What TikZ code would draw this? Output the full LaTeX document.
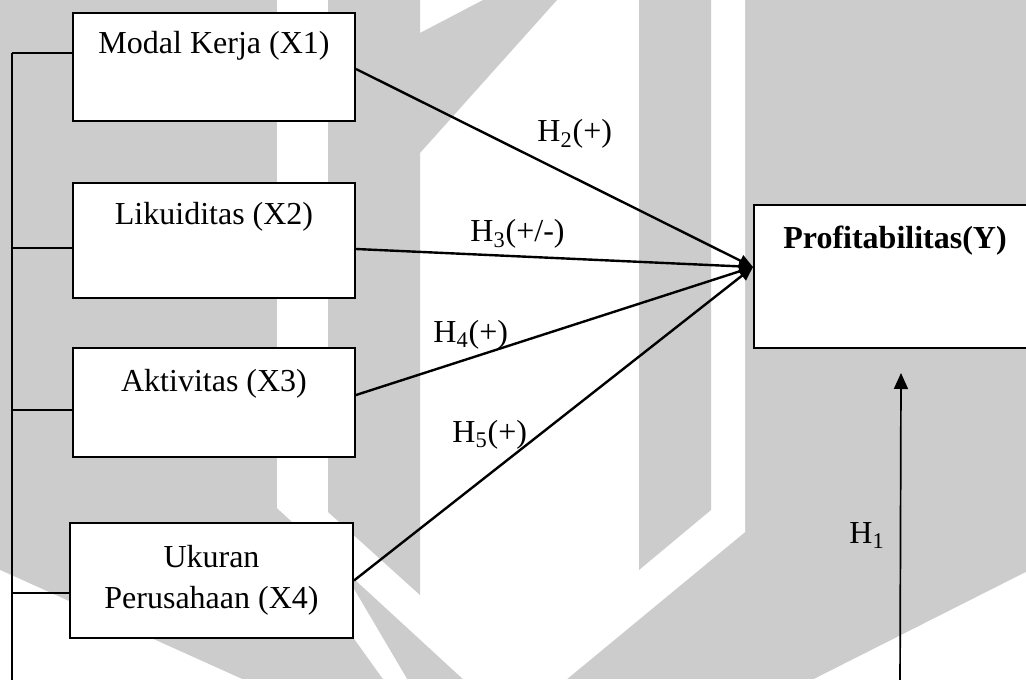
\documentclass[tikz,border=0pt]{standalone}
\usepackage{fontspec}
\setmainfont{Liberation Serif}
\usetikzlibrary{arrows.meta}
\definecolor{wm}{HTML}{CCCCCC}
\begin{document}
\begin{tikzpicture}[x=0.5pt,y=-0.5pt,
  varbox/.style={draw=black,line width=1pt,fill=white,inner sep=0pt,minimum width=141pt,anchor=north west,font=\fontsize{16}{20.5}\selectfont},
  link/.style={line width=1.2pt,-{Triangle[length=7pt,width=6pt]}},
  busline/.style={line width=0.75pt},
  hlabel/.style={anchor=base west,inner sep=0pt,font=\fontsize{16}{18}\selectfont}]
\useasboundingbox (0,0) rectangle (1026,679);
\clip (0,0) rectangle (1026,679);
% background watermark
\fill[wm] (0,0) rectangle (1026,679);
\fill[white] (277,0) -- (745,0) -- (745,532) -- (567,679) -- (463,679) -- (277,508) -- cycle;
\fill[wm] (328,0) -- (420,0) -- (420,595) -- (328,512) -- cycle;
\fill[wm] (483,0) -- (557,0) -- (420,153) -- (420,33) -- cycle;
\fill[wm] (639,0) -- (711,0) -- (711,510) -- (639,570) -- cycle;
\fill[white] (0,570) -- (242,679) -- (0,679) -- cycle;
\fill[white] (1026,572) -- (1026,679) -- (814,679) -- cycle;
\fill[white] (341,567) -- (407,679) -- (383,679) -- (330,605) -- cycle;
% boxes
\node[varbox,text height=20.5pt,text depth=33.5pt] (X1) at (72,12) {Modal Kerja (X1)};
\node[varbox,text height=20.5pt,text depth=37pt] (X2) at (72,182) {Likuiditas (X2)};
\node[varbox,text height=21.5pt,text depth=33pt] (X3) at (72,347) {Aktivitas (X3)};
\node[varbox,minimum width=141.5pt,minimum height=57.5pt,align=center] (X4) at (69,522) {Ukuran\\Perusahaan (X4)};
\node[varbox,text height=21.5pt,text depth=50pt,font=\fontsize{16}{20.5}\selectfont\bfseries] (Y) at (753,204) {Profitabilitas(Y)};
% left bus
\coordinate (b1) at (12,53);
\coordinate (b2) at (12,248);
\coordinate (b3) at (12,410);
\coordinate (b4) at (12,593);
\coordinate (bend) at (12,690);
\draw[busline] (b1) -- (bend);
\draw[busline] (b1) -- (b1 -| X1.west);
\draw[busline] (b2) -- (b2 -| X2.west);
\draw[busline] (b3) -- (b3 -| X3.west);
\draw[busline] (b4) -- (b4 -| X4.west);
% arrows
\coordinate (tip) at ([yshift=4.75pt]Y.west);
\draw[link] ([yshift=-1pt]X1.east) -- (tip);
\draw[link] ([yshift=-4.25pt]X2.east) -- (tip);
\draw[link] ([yshift=3.75pt]X3.east) -- (tip);
\draw[link] (X4.east) -- (tip);
\coordinate (h1b) at ([xshift=3pt,yshift=-12pt]Y.south);
\coordinate (h1a) at (900,690);
\draw[line width=0.85pt,-{Triangle[length=8pt,width=7pt]}] (h1a) -- (h1b);
% labels
\node[hlabel] (L2) at (537,142) {H\textsubscript{2}(+)};
\node[hlabel] (L3) at (470,242) {H\textsubscript{3}(+/-)};
\node[hlabel] (L4) at (433,342) {H\textsubscript{4}(+)};
\node[hlabel] (L5) at (452,442) {H\textsubscript{5}(+)};
\node[hlabel] (L1) at (849,543) {H\textsubscript{1}};
\end{tikzpicture}
\end{document}
